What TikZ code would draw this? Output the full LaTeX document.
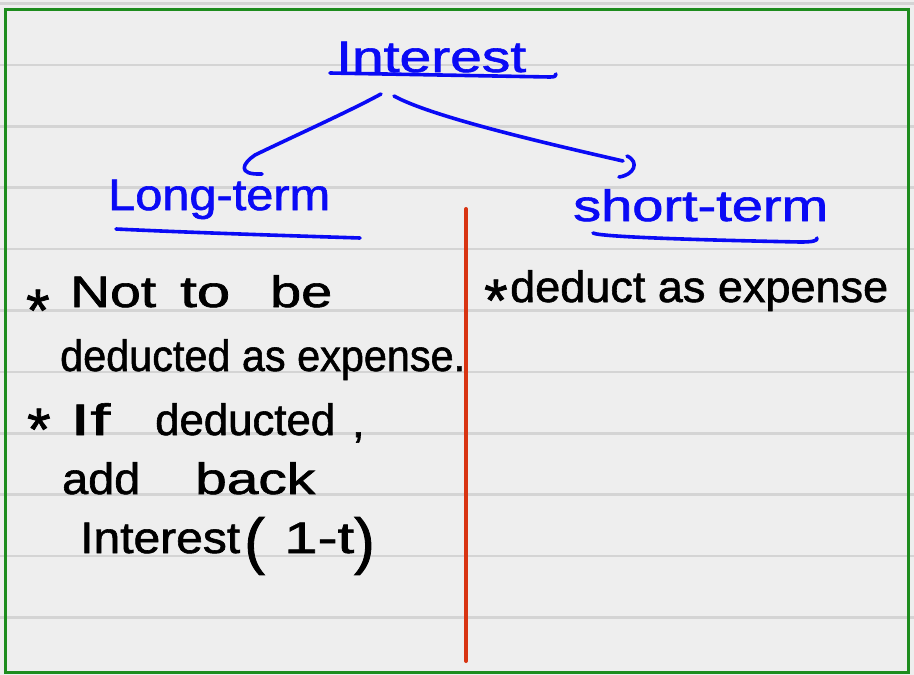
\documentclass[tikz,border=0pt]{standalone}
\usepackage{fontspec}
\setmainfont{Liberation Sans}
\newfontfamily\hand[FakeBold=1.3]{Liberation Sans}
\usepackage{graphicx}
\definecolor{paper}{HTML}{EEEEEE}
\definecolor{ruleline}{HTML}{D4D4D4}
\definecolor{frame}{HTML}{1E8C1E}
\definecolor{redline}{HTML}{D83412}
\definecolor{ink}{HTML}{0A0AF5}
\newcommand{\fitw}[2]{\resizebox{#1}{\height}{#2}}
\begin{document}
\begin{tikzpicture}[x=1pt,y=-1pt,
  hw/.style={inner sep=0pt, anchor=base west, font=\hand\fontsize{44}{50}\selectfont},
  bluehw/.style={hw, text=ink},
  blackhw/.style={hw, text=black},
  starhw/.style={hw, font=\hand\fontsize{60}{66}\selectfont},
  parenhw/.style={hw, font=\hand\fontsize{62}{66}\selectfont},
  pen/.style={draw=ink, line width=3.6pt, line cap=round, line join=round},
  ruled/.style={draw=ruleline, line width=2.6pt}]
\useasboundingbox (0,0) rectangle (914,675);
\fill[paper] (0,0) rectangle (914,675);
% ruled lines
\foreach \k in {0,...,10}
  \draw[ruled] (0,{3.5+61.4*\k}) -- (914,{3.5+61.4*\k});
% frame
\draw[frame, line width=3pt] (5,9) rectangle (908,672);
% red divider
\draw[redline, line width=4pt, line cap=round] (466,209) -- (466,661);

% blue headings
\node[bluehw] (title) at (336,72) {\fitw{190pt}{Interest}};
\node[bluehw] (long) at (108,210) {\fitw{222pt}{Long-term}};
\node[bluehw] (short) at (573,221) {\fitw{255pt}{short-term}};

% underlines
\draw[pen] (330,73) -- (550,77) .. controls (555,77) and (556,76) .. (556,74);
\draw[pen] (116,229) .. controls (200,233) and (300,236) .. (360,238);
\draw[pen] (593,233) .. controls (600,237) and (700,240) .. (800,242) .. controls (812,242) and (818,241) .. (817,238);

% connectors
\coordinate (aL0) at (381,94);
\coordinate (aL1) at (262,174);
\coordinate (aR0) at (394,96);
\coordinate (aR1) at (619,177);
\draw[pen] (aL0) .. controls (350,111) and (290,138) .. (255,155)
  .. controls (243,163) and (236,175) .. (aL1);
\draw[pen] (aR0) .. controls (430,116) and (540,142) .. (623,161);
\draw[pen] (627,156) .. controls (640,162) and (634,175) .. (aR1);

% left column
\node[starhw] (st1) at (26,331) {*};
\node[blackhw] (w1) at (70,307) {\fitw{86pt}{Not}};
\node[blackhw] (w2) at (180,307) {\fitw{50pt}{to}};
\node[blackhw] (w3) at (270,307) {\fitw{62pt}{be}};
\node[blackhw] (w4) at (60,371) {\fitw{405pt}{deducted as expense.}};
\node[starhw] (st2) at (27,450) {*};
\node[blackhw] (w5) at (70,435) {\fitw{40pt}{If}};
\node[blackhw] (w6) at (155,435) {\fitw{180pt}{deducted}};
\node[blackhw] (w7) at (352,437) {,};
\node[blackhw] (w8) at (62,494) {\fitw{78pt}{add}};
\node[blackhw] (w9) at (195,494) {\fitw{120pt}{back}};
\node[blackhw] (w10) at (80,553) {\fitw{160pt}{Interest}};
\node[parenhw] (p1) at (244,562) {(};
\node[blackhw] (w11) at (284,553) {\fitw{70pt}{1-t}};
\node[parenhw] (p2) at (354,562) {)};

% right column
\node[starhw] (st3) at (484,321) {*};
\node[blackhw] (w12) at (510,302) {\fitw{378pt}{deduct as expense}};
\end{tikzpicture}
\end{document}
